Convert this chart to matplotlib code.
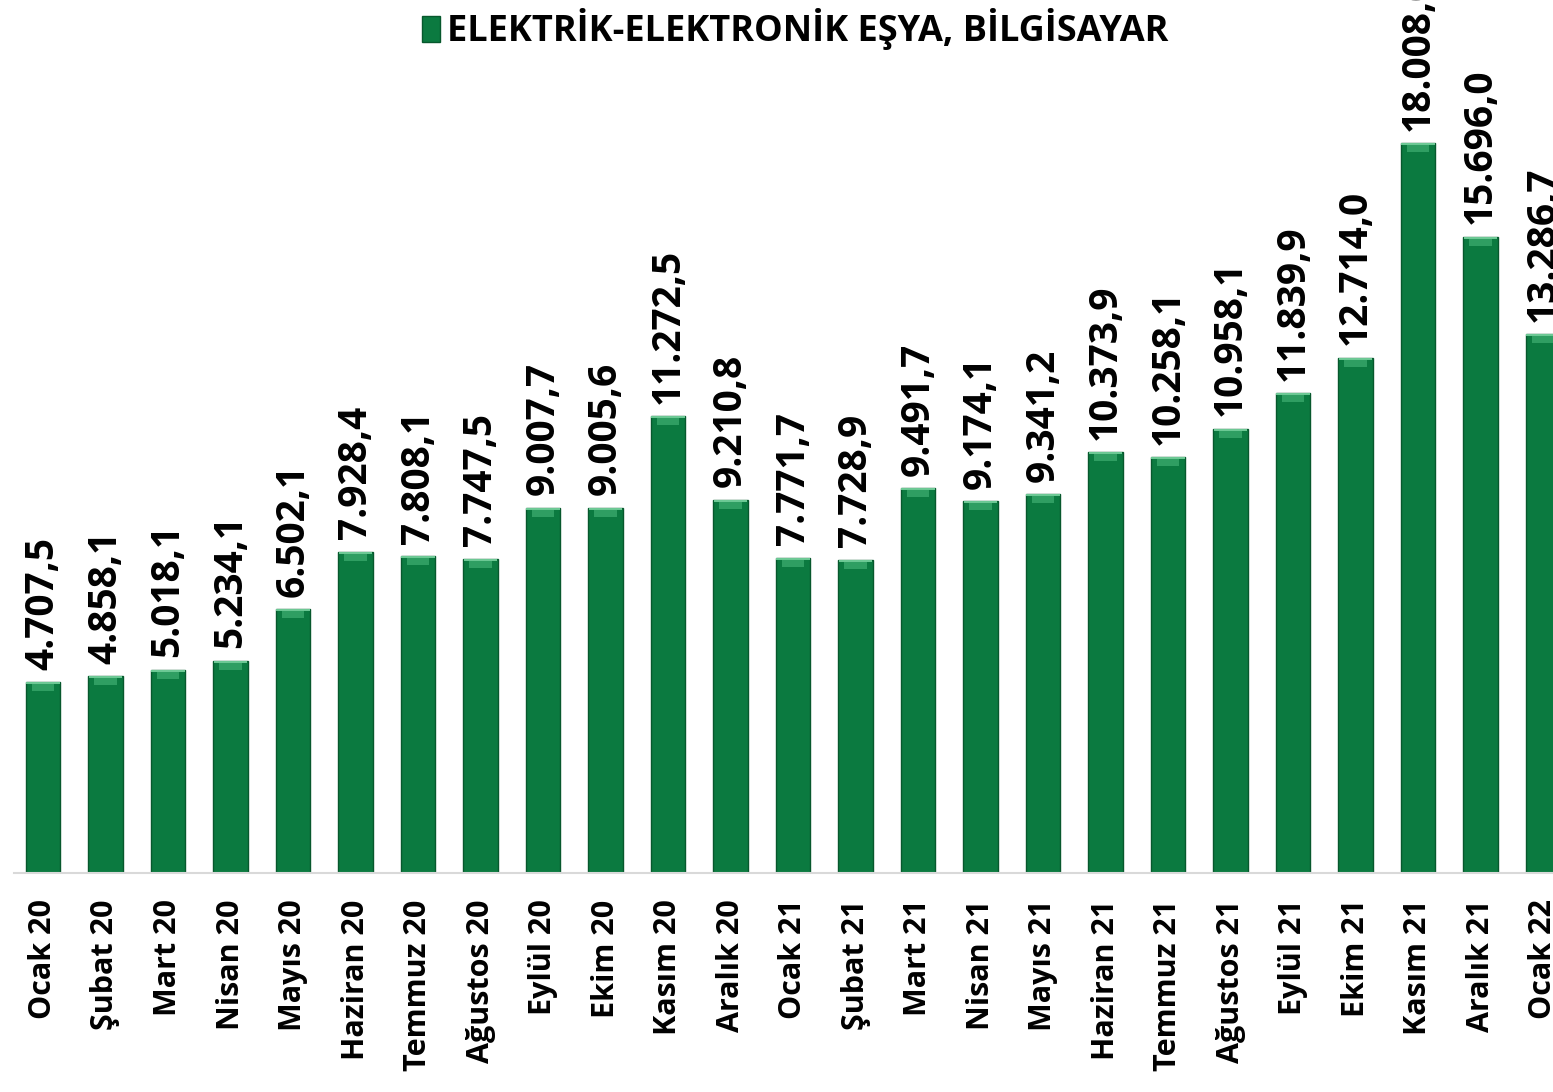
import matplotlib
matplotlib.use("Agg")
import matplotlib.pyplot as plt
from matplotlib.patches import Patch

categories = ["Ocak 20", "Şubat 20", "Mart 20", "Nisan 20", "Mayıs 20", "Haziran 20",
              "Temmuz 20", "Ağustos 20", "Eylül 20", "Ekim 20", "Kasım 20", "Aralık 20",
              "Ocak 21", "Şubat 21", "Mart 21", "Nisan 21", "Mayıs 21", "Haziran 21",
              "Temmuz 21", "Ağustos 21", "Eylül 21", "Ekim 21", "Kasım 21", "Aralık 21",
              "Ocak 22"]
values = [4707.5, 4858.1, 5018.1, 5234.1, 6502.1, 7928.4,
          7808.1, 7747.5, 9007.7, 9005.6, 11272.5, 9210.8,
          7771.7, 7728.9, 9491.7, 9174.1, 9341.2, 10373.9,
          10258.1, 10958.1, 11839.9, 12714.0, 18008.0, 15696.0,
          13286.7]
value_labels = ["4.707,5", "4.858,1", "5.018,1", "5.234,1", "6.502,1", "7.928,4",
                "7.808,1", "7.747,5", "9.007,7", "9.005,6", "11.272,5", "9.210,8",
                "7.771,7", "7.728,9", "9.491,7", "9.174,1", "9.341,2", "10.373,9",
                "10.258,1", "10.958,1", "11.839,9", "12.714,0", "18.008,0", "15.696,0",
                "13.286,7"]
legend_label = "ELEKTRİK-ELEKTRONİK EŞYA, BİLGİSAYAR"

W, H = 1553, 1092
fig = plt.figure(figsize=(W / 100, H / 100), dpi=100)
base_px = 873
left_px = 14
ax = fig.add_axes([left_px / W, 1 - base_px / H, 1 - left_px / W, base_px / H])

FONT = ["Open Sans", "DejaVu Sans"]
green = "#0b7a40"
edge = "#07582d"
top_col = "#2f9e62"
top_line = "#6cc894"

x = list(range(len(values)))
px_per_bar = 62.5
ax.set_xlim((left_px - 43) / px_per_bar, (W - 43) / px_per_bar)
px_per_unit = 730 / 18008.0
ax.set_ylim(0, base_px / px_per_unit)

ax.bar(x, values, width=0.55, color=green, edgecolor=edge, linewidth=1.0, zorder=2)
cap = 9 / px_per_unit
ax.bar(x, [cap] * len(values), bottom=[v - cap for v in values], width=0.36,
       color=top_col, linewidth=0, zorder=3)
thin = 2 / px_per_unit
ax.bar(x, [thin] * len(values), bottom=[v - thin for v in values], width=0.53,
       color=top_line, linewidth=0, zorder=4)

for xi, v, lab in zip(x, values, value_labels):
    ax.annotate(lab, (xi, v), xytext=(0, 9), textcoords="offset points",
                rotation=90, ha="center", va="bottom", fontsize=28,
                fontweight="bold", family=FONT, color="black", clip_on=False)

ax.set_xticks(x)
ax.set_xticklabels(categories, rotation=90, fontsize=22, fontweight="bold", family=FONT)
ax.tick_params(axis="x", length=0, pad=19)
ax.set_yticks([])
for s in ["top", "right", "left"]:
    ax.spines[s].set_visible(False)
ax.spines["bottom"].set_color("#d9d9d9")
ax.spines["bottom"].set_linewidth(1.5)
ax.patch.set_alpha(0)

handle = Patch(facecolor=green, edgecolor=edge)
fig.legend([handle], [legend_label], loc="upper center", bbox_to_anchor=(0.512, 1.022),
           frameon=False, prop={"family": FONT, "weight": "bold", "size": 26},
           handlelength=0.5, handleheight=0.75, handletextpad=0.2)

fig.savefig("out.png", dpi=100)
